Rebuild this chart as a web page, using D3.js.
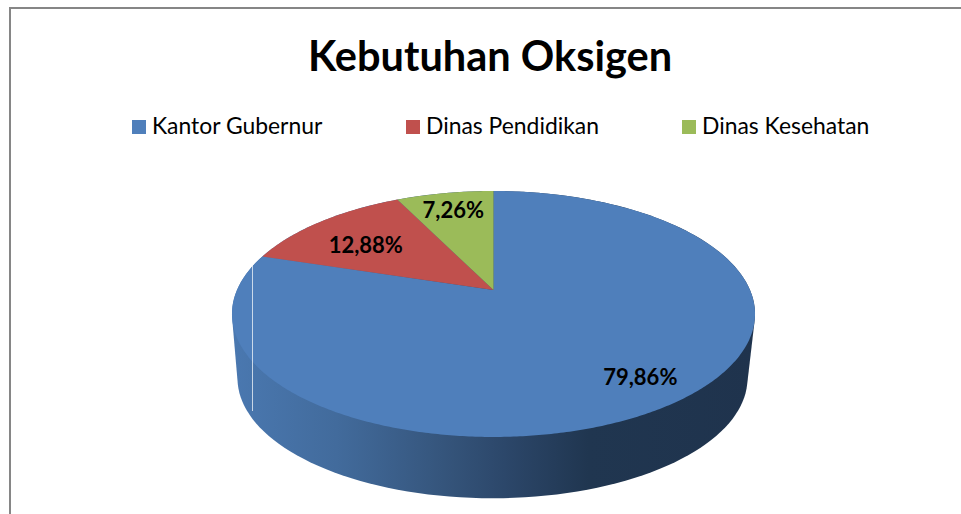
<!DOCTYPE html>
<html>
<head>
<meta charset="utf-8">
<script src="https://cdnjs.cloudflare.com/ajax/libs/d3/7.8.5/d3.min.js"></script>
<style>
  html, body { margin: 0; padding: 0; background: #fff; }
  svg { display: block; }
  text { font-family: Lato, "Open Sans", sans-serif; fill: #000; }
</style>
</head>
<body>
<div id="chart"></div>
<script>
// Data
const categories = ['Kantor Gubernur', 'Dinas Pendidikan', 'Dinas Kesehatan'];
const values = [79.86, 12.88, 7.26];
const colors = ['#4f7fbb', '#c0504d', '#9bbb59'];
const title = 'Kebutuhan Oksigen';

const width = 961;
const height = 514;

const svg = d3.select('#chart').append('svg')
  .attr('width', width)
  .attr('height', height);

// Chart border (only top and left fall inside the crop)
svg.append('path')
  .attr('d', d3.line()([[10, height], [10, 8], [width, 8]]))
  .attr('fill', 'none')
  .attr('stroke', '#868686')
  .attr('stroke-width', 2);

svg.append('text')
  .attr('x', 490)
  .attr('y', 71)
  .attr('text-anchor', 'middle')
  .attr('font-size', 41.5)
  .attr('font-weight', 700)
  .text(title);

// Legend
const legendX = d3.scaleOrdinal().domain(categories).range([132, 406, 682]);
const legend = svg.append('g').selectAll('g')
  .data(categories)
  .enter().append('g')
  .attr('transform', d => `translate(${legendX(d)},120)`);
legend.append('rect')
  .attr('width', 14)
  .attr('height', 14)
  .attr('fill', (d, i) => colors[i]);
legend.append('text')
  .attr('x', 20)
  .attr('y', 14)
  .attr('font-size', 22.9)
  .text(d => d);

// Perspective projection of the disc: angle 0 at the back, clockwise
const tilt = { a: 118.3, b: 256.5, k: 0.195 };
function project(angle, r, apex, scale) {
  const X = r * Math.sin(angle);
  const Y = r * Math.cos(angle);
  const w = 1 + tilt.k * Y;
  return [apex[0] + scale * tilt.b * X / w, apex[1] - scale * tilt.a * Y / w];
}

const topApex = [493.5, 290];
const bottomApex = [492.5, 355];
const bottomScale = 0.975;

const pie = d3.pie().sort(null);
const arcs = pie(values);

// Side wall: hull of the upper and lower rim
const rimAngles = d3.range(0, 360, 2).map(d => d * Math.PI / 180);
const rimPoints = rimAngles.map(a => project(a, 1, topApex, 1))
  .concat(rimAngles.map(a => project(a, 1, bottomApex, bottomScale)));

const defs = svg.append('defs');
const grad = defs.append('linearGradient')
  .attr('id', 'side')
  .attr('gradientUnits', 'userSpaceOnUse')
  .attr('x1', 232).attr('y1', 0)
  .attr('x2', 756).attr('y2', 0);
const stops = [[0, '#4a78b0'], [0.2, '#426b9c'], [0.42, '#345379'], [0.52, '#2c476a'], [0.68, '#203650'], [1, '#1f334d']];
grad.selectAll('stop')
  .data(stops)
  .enter().append('stop')
  .attr('offset', d => d[0])
  .attr('stop-color', d => d[1]);

svg.append('path')
  .attr('d', d3.line().curve(d3.curveLinearClosed)(d3.polygonHull(rimPoints)))
  .attr('fill', 'url(#side)');

// Top face
const line = d3.line();
svg.append('g').selectAll('path')
  .data(arcs)
  .enter().append('path')
  .attr('d', d => {
    const steps = Math.ceil((d.endAngle - d.startAngle) / 0.01);
    const pts = d3.range(steps + 1).map(i =>
      project(d.startAngle + (d.endAngle - d.startAngle) * i / steps, 1, topApex, 1));
    return line([topApex, ...pts]) + 'Z';
  })
  .attr('fill', (d, i) => colors[i]);

// Thin white seam that the original has on the left of the pie
svg.append('line')
  .attr('x1', 252.5).attr('x2', 252.5)
  .attr('y1', 263).attr('y2', 411)
  .attr('stroke', '#fff')
  .attr('stroke-width', 1)
  .attr('opacity', 0.7);

// Labels
const labelRadius = [0.84, 0.68, 0.8];
const labelNudge = [[0, -5], [-6, 3], [0, 0]];
const fmt = v => v.toFixed(2).replace('.', ',') + '%';
svg.append('g').selectAll('text')
  .data(arcs)
  .enter().append('text')
  .attr('transform', (d, i) => {
    const p = project((d.startAngle + d.endAngle) / 2, labelRadius[i], topApex, 1);
    return `translate(${p[0] + labelNudge[i][0]},${p[1] + labelNudge[i][1]})`;
  })
  .attr('text-anchor', 'middle')
  .attr('dy', '0.36em')
  .attr('font-size', 22)
  .attr('font-weight', 700)
  .text(d => fmt(d.data));
</script>
</body>
</html>
